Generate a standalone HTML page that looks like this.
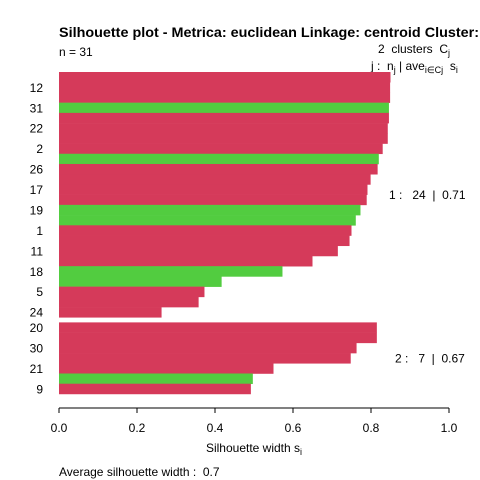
<!DOCTYPE html>
<html><head><meta charset="utf-8"><style>
body{margin:0;background:#fff}
svg{display:block;font-family:"Liberation Sans",Arial,sans-serif}
svg text{white-space:pre}
</style></head><body>
<svg id="chart" width="480" height="480">
<rect x="0" y="0" width="480" height="480" fill="#fff"/>
<text x="59" y="37" font-size="14" font-weight="bold" fill="#000" textLength="420" lengthAdjust="spacingAndGlyphs">Silhouette plot - Metrica: euclidean Linkage: centroid Cluster:</text>
<text x="59" y="56" font-size="12" fill="#000">n = 31</text>
<text x="378" y="53" font-size="12" fill="#000">2  clusters  C<tspan font-size="9" dy="3">j</tspan></text>
<text x="371" y="70" font-size="12" fill="#000">j :  n<tspan font-size="9" dy="3">j</tspan><tspan dy="-3"> | ave</tspan><tspan font-size="9" dy="3">i∈Cj</tspan><tspan dy="-3">  s</tspan><tspan font-size="9" dy="3">i</tspan></text>
<g id="bars"></g>
<g id="axis"></g>
<text x="254" y="452" font-size="12" text-anchor="middle" fill="#000">Silhouette width s<tspan font-size="9" dy="3">i</tspan></text>
<text x="59" y="476" font-size="12" fill="#000">Average silhouette width :  0.7</text>
</svg>
<script>
const values1 = [0.850,0.849,0.849,0.846,0.846,0.843,0.843,0.830,0.820,0.817,0.799,0.791,0.789,0.773,0.761,0.750,0.745,0.715,0.650,0.573,0.417,0.373,0.358,0.263];
const colors1 = ['r','r','r','g','r','r','r','r','g','r','r','r','r','g','g','r','r','r','r','g','g','r','r','r'];
const labels1 = ['','12','','31','','22','','2','','26','','17','','19','','1','','11','','18','','5','','24'];
const values2 = [0.815,0.815,0.763,0.748,0.550,0.497,0.492];
const colors2 = ['r','r','r','r','r','g','r'];
const labels2 = ['20','','30','','21','','9'];
const clusterSummary = [['1','24','0.71'],['2','7','0.67']];
const ticks = [0,0.2,0.4,0.6,0.8,1.0];
const tickLabels = ['0.0','0.2','0.4','0.6','0.8','1.0'];

const NS='http://www.w3.org/2000/svg';
const X0=59,X1=449,TOPY=72,BH=10.22;
const xs=v=>X0+(X1-X0)*v;
const col={r:'#D53A5A',g:'#52CC40'};
const barsG=document.getElementById('bars');
const svgEl=document.getElementById('chart');
function mk(t,a){const e=document.createElementNS(NS,t);for(const k in a)e.setAttribute(k,a[k]);return e;}
function drawCluster(vals,cols,labs,startIdx,ci){
  vals.forEach((v,i)=>{
    const y=TOPY+(startIdx+i)*BH;
    const r=mk('rect',{x:X0,y:y,width:xs(v)-X0,height:BH+0.3,fill:col[cols[i]]});
    
    
    barsG.appendChild(r);
    if(labs[i]){
      const t=mk('text',{x:43,y:y+BH/2+4.5,'font-size':12,'text-anchor':'end',fill:'#000'});
      t.textContent=labs[i];
      
      
      svgEl.appendChild(t);
    }
  });
  const s=clusterSummary[ci-1];
  const midY=TOPY+(startIdx+vals.length/2)*BH;
  const t=mk('text',{x:ci==1?389:395,y:midY+4.5,'font-size':12,fill:'#000'});
  t.textContent=s[0]+' :   '+s[1]+'  |  '+s[2];
  
  
  svgEl.appendChild(t);
}
drawCluster(values1,colors1,labels1,0,1);
drawCluster(values2,colors2,labels2,values1.length+0.5,2);
const ax=document.getElementById('axis');
const ay=408;
const line=mk('line',{x1:xs(ticks[0]),x2:xs(ticks[ticks.length-1]),y1:ay,y2:ay,stroke:'#000'});


ax.appendChild(line);
ticks.forEach((v,i)=>{
  const l=mk('line',{x1:xs(v),x2:xs(v),y1:ay,y2:ay+5,stroke:'#000'});
  
  
  ax.appendChild(l);
  const t=mk('text',{x:xs(v),y:ay+24,'font-size':12,'text-anchor':'middle',fill:'#000'});
  t.textContent=tickLabels[i];
  
  
  ax.appendChild(t);
});
</script>
</body></html>
